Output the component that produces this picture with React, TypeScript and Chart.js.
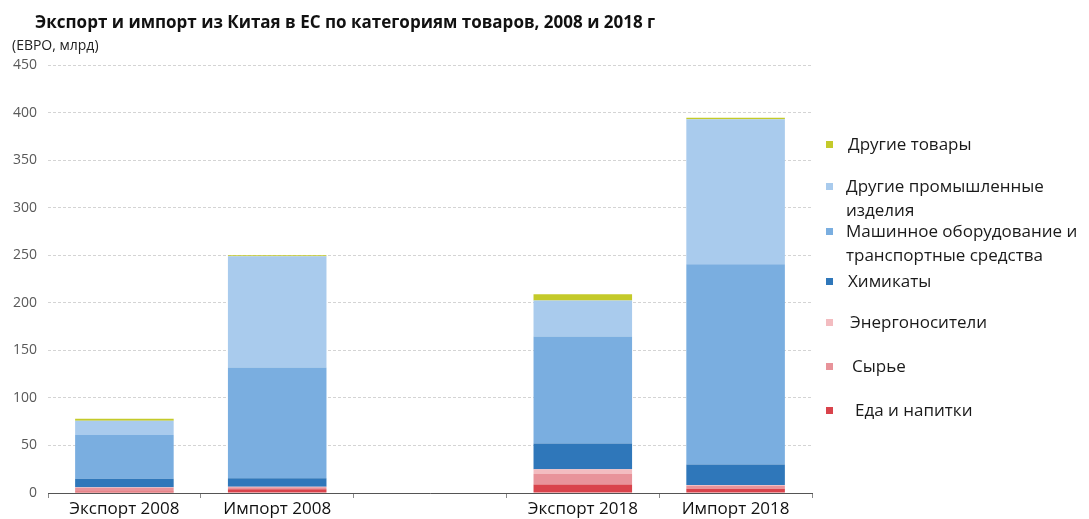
import React, { useEffect, useRef } from "react";
import { Chart, registerables } from "chart.js";

Chart.register(...registerables);

const categories = ["Экспорт 2008", "Импорт 2008", "", "Экспорт 2018", "Импорт 2018"];

const foodDrinks = [1.5, 4, null, 9, 4.5];
const rawMaterials = [4, 2, null, 11, 3];
const energy = [0.5, 0.5, null, 5, 1];
const chemicals = [9, 9, null, 27, 21.5];
const machinery = [46, 116.5, null, 112.5, 210.5];
const otherManufactured = [15, 117, null, 38, 152.5];
const otherGoods = [2, 1, null, 6.5, 1.5];

const yTicksMax = 450;
const yTicksStep = 50;

const title = "Экспорт и импорт из Китая в ЕС по категориям товаров, 2008 и 2018 г";
const unitLabel = "(ЕВРО, млрд)";

const FONT = "'Open Sans', 'Noto Sans', sans-serif";

const series = [
  { label: "Еда и напитки", data: foodDrinks, color: "#d9434b" },
  { label: "Сырье", data: rawMaterials, color: "#e8939a" },
  { label: "Энергоносители", data: energy, color: "#f3bcc0" },
  { label: "Химикаты", data: chemicals, color: "#2f77ba" },
  { label: "Машинное оборудование и транспортные средства", data: machinery, color: "#7aaee0" },
  { label: "Другие промышленные изделия", data: otherManufactured, color: "#a9cbed" },
  { label: "Другие товары", data: otherGoods, color: "#c4ca2a" },
];

const legendItems = [
  { lines: ["Другие товары"], color: "#c4ca2a", y: 144, tx: 848 },
  { lines: ["Другие промышленные", "изделия"], color: "#a9cbed", y: 186, tx: 846 },
  { lines: ["Машинное оборудование и", "транспортные средства"], color: "#7aaee0", y: 231, tx: 846 },
  { lines: ["Химикаты"], color: "#2f77ba", y: 281, tx: 848 },
  { lines: ["Энергоносители"], color: "#f3bcc0", y: 322, tx: 850 },
  { lines: ["Сырье"], color: "#e8939a", y: 366, tx: 852 },
  { lines: ["Еда и напитки"], color: "#d9434b", y: 410, tx: 855 },
];

export default function App() {
  const ref = useRef<HTMLCanvasElement>(null);

  useEffect(() => {
    if (!ref.current) return;
    const chart = new Chart(ref.current, {
      type: "bar",
      data: {
        labels: categories,
        datasets: series.map((s) => ({
          label: s.label,
          data: s.data as any,
          backgroundColor: s.color,
          borderWidth: 0,
          categoryPercentage: 1,
          barPercentage: 0.645,
        })),
      },
      options: {
        animation: false,
        responsive: false,
        maintainAspectRatio: false,
        layout: { padding: { top: 65, right: 277, left: 0, bottom: 0 } },
        plugins: {
          legend: { display: false },
          tooltip: { enabled: false },
          title: { display: false },
        },
        scales: {
          x: {
            stacked: true,
            grid: {
              offset: true,
              drawOnChartArea: false,
              drawTicks: true,
              tickLength: 5,
              color: "#8a8a8a",
            },
            border: { color: "#555555", width: 1 },
            ticks: {
              color: "#111111",
              font: { size: 17, family: FONT },
              padding: 1,
              maxRotation: 0,
            },
            afterFit: (s: any) => {
              s.height = 26;
            },
          },
          y: {
            stacked: true,
            min: 0,
            max: yTicksMax,
            ticks: {
              stepSize: yTicksStep,
              color: "#595959",
              font: { size: 14, family: FONT },
              padding: 11,
            },
            grid: { color: "#d4d4d4", drawTicks: false },
            border: { display: false, dash: [3, 2] },
            afterFit: (s: any) => {
              s.width = 48;
            },
          },
        },
      },
    });
    return () => chart.destroy();
  }, []);

  return (
    <div
      style={{
        position: "absolute",
        left: 0,
        top: 0,
        width: 1089,
        height: 519,
        background: "#ffffff",
        fontFamily: FONT,
        overflow: "hidden",
      }}
    >
      <canvas ref={ref} width={1089} height={519} style={{ display: "block" }} />
      <div
        style={{
          position: "absolute",
          left: 35,
          top: 10,
          fontSize: 17,
          fontWeight: 700,
          color: "#111",
          whiteSpace: "nowrap",
          lineHeight: "24px",
        }}
      >
        {title}
      </div>
      <div
        style={{
          position: "absolute",
          left: 12,
          top: 35,
          fontSize: 14,
          color: "#222",
          whiteSpace: "nowrap",
          lineHeight: "20px",
        }}
      >
        {unitLabel}
      </div>
      {legendItems.map((it, i) => (
        <React.Fragment key={i}>
          <div
            style={{
              position: "absolute",
              left: 826,
              top: it.y - 3.5,
              width: 7,
              height: 7,
              background: it.color,
            }}
          />
          <div
            style={{
              position: "absolute",
              left: it.tx,
              top: it.y - 12,
              fontSize: 17,
              lineHeight: "24px",
              color: "#1a1a1a",
              whiteSpace: "nowrap",
            }}
          >
            {it.lines.map((l, j) => (
              <div key={j}>{l}</div>
            ))}
          </div>
        </React.Fragment>
      ))}
    </div>
  );
}
